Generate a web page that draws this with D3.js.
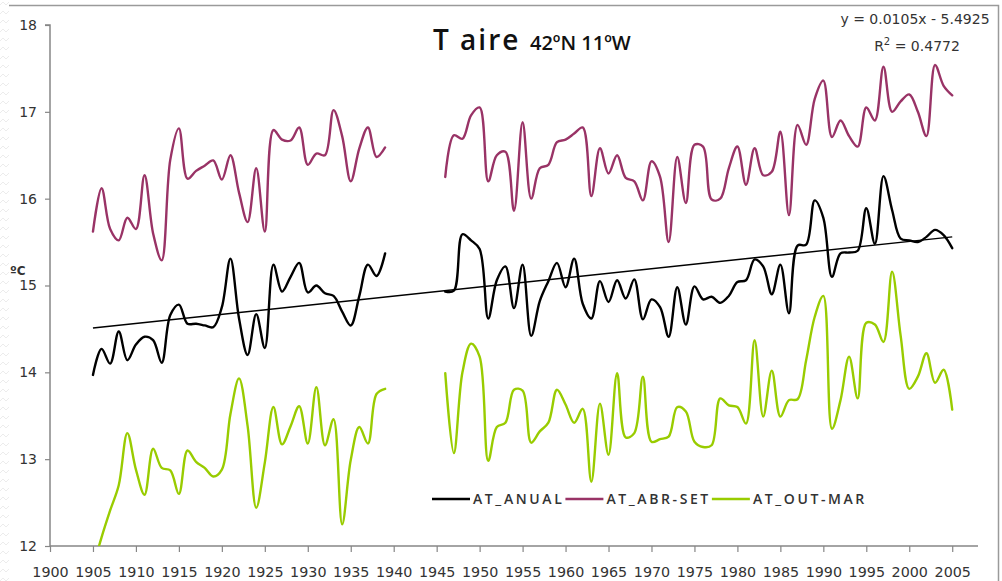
<!DOCTYPE html>
<html>
<head>
<meta charset="utf-8">
<script src="https://cdn.jsdelivr.net/npm/d3@7"></script>
<style>
  html, body { margin: 0; padding: 0; background: #fff; }
  svg { display: block; }
</style>
</head>
<body>
<svg id="chart" width="1002" height="581"></svg>
<script>
// Annual series, 1905–2005 (no record for 1940–1945)
const years = d3.range(1905, 2006);

const atAnual = [
  13.97, 14.27, 14.10, 14.47, 14.14, 14.32, 14.41, 14.37, 14.11, 14.66,
  14.78, 14.56, 14.56, 14.54, 14.52, 14.75, 15.31, 14.62, 14.20, 14.67,
  14.28, 15.24, 14.93, 15.10, 15.26, 14.92, 15.00, 14.91, 14.88, 14.70,
  14.54, 14.88, 15.24, 15.11, 15.37, null, null, null, null, null,
  null, 14.93, 14.94, 15.59, 15.52, 15.42, 14.62, 15.06, 15.22, 14.74,
  15.24, 14.42, 14.82, 15.05, 15.26, 14.98, 15.31, 14.79, 14.62, 15.05,
  14.81, 15.06, 14.85, 15.07, 14.61, 14.84, 14.75, 14.41, 14.98, 14.55,
  14.99, 14.84, 14.87, 14.80, 14.88, 15.04, 15.06, 15.30, 15.22, 14.90,
  15.24, 14.68, 15.46, 15.47, 15.98, 15.78, 15.10, 15.37, 15.38, 15.40,
  15.89, 15.48, 16.26, 15.87, 15.54, 15.52, 15.50, 15.56, 15.64, 15.58,
  15.43
];

const atAbrSet = [
  15.62, 16.12, 15.65, 15.52, 15.78, 15.65, 16.27, 15.60, 15.29, 16.45,
  16.81, 16.23, 16.32, 16.38, 16.44, 16.22, 16.50, 16.07, 15.73, 16.35,
  15.62, 16.79, 16.68, 16.67, 16.82, 16.39, 16.52, 16.50, 17.02, 16.72,
  16.20, 16.58, 16.82, 16.48, 16.59, null, null, null, null, null,
  null, 16.25, 16.73, 16.69, 16.96, 17.05, 16.20, 16.50, 16.54, 15.86,
  16.88, 16.00, 16.35, 16.39, 16.65, 16.68, 16.75, 16.82, 16.03, 16.58,
  16.29, 16.50, 16.24, 16.20, 15.98, 16.43, 16.25, 15.50, 16.48, 15.95,
  16.62, 16.60, 15.99, 16.00, 16.35, 16.60, 16.16, 16.58, 16.27, 16.31,
  16.77, 15.81, 16.85, 16.62, 17.15, 17.36, 16.71, 16.90, 16.72, 16.60,
  17.05, 16.90, 17.52, 17.00, 17.12, 17.20, 17.00, 16.72, 17.54, 17.30,
  17.19
];

const atOutMar = [
  11.75, 12.10, 12.41, 12.70, 13.30, 12.88, 12.59, 13.12, 12.90, 12.87,
  12.60, 13.10, 12.97, 12.90, 12.80, 12.88, 13.52, 13.93, 13.38, 12.44,
  12.96, 13.60, 13.17, 13.38, 13.61, 13.18, 13.83, 13.16, 13.46, 12.25,
  12.99, 13.37, 13.18, 13.75, 13.81, null, null, null, null, null,
  null, 13.99, 13.07, 14.00, 14.33, 14.18, 12.98, 13.37, 13.42, 13.80,
  13.79, 13.19, 13.32, 13.42, 13.80, 13.63, 13.42, 13.58, 12.74, 13.64,
  13.05, 13.99, 13.25, 13.30, 13.95, 13.20, 13.23, 13.26, 13.60, 13.55,
  13.20, 13.14, 13.16, 13.70, 13.62, 13.60, 13.41, 14.37, 13.49, 14.02,
  13.49, 13.68, 13.69, 14.14, 14.64, 14.88, 13.35, 13.68, 14.18, 13.70,
  14.57, 14.55, 14.35, 15.16, 14.42, 13.81, 13.95, 14.22, 13.88, 14.03,
  13.57
];

const seriesNames = ["AT_ANUAL", "AT_ABR-SET", "AT_OUT-MAR"];
const seriesColors = ["#000000", "#993366", "#99cc00"];
const seriesValues = [atAnual, atAbrSet, atOutMar];

// Linear fit of AT_ANUAL
const trendSlope = 0.0105;
const trendIntercept = -5.4925;
const trendSpan = [1905, 2005];
const trendLabel = "y = 0.0105x - 5.4925";
const r2Label = "0.4772";

const xTicks = d3.range(1900, 2006, 5);
const yTicks = [12, 13, 14, 15, 16, 17, 18];

const svg = d3.select("#chart");
const W = 1002, H = 581;
const plot = { left: 50, right: 978, top: 25, bottom: 546 };

const x = d3.scaleLinear().domain([1900, 2008]).range([plot.left, plot.right]);
const y = d3.scaleLinear().domain([12, 18]).range([plot.bottom, plot.top]);

// frame and textured left margin
const defs = svg.append("defs");
const pat = defs.append("pattern")
  .attr("id", "edge").attr("width", 10).attr("height", 9)
  .attr("patternUnits", "userSpaceOnUse");
pat.append("path")
  .attr("d", "M0,5 L3,2 L6,5 L9,2")
  .attr("fill", "none").attr("stroke", "#ececec").attr("stroke-width", 1);
svg.append("rect").attr("x", 0).attr("y", 0).attr("width", 9).attr("height", H)
  .attr("fill", "url(#edge)");
svg.append("path")
  .attr("d", `M9,5.5 H998.5 V${H}`)
  .attr("fill", "none").attr("stroke", "#9a9a9a").attr("stroke-width", 1.5);

defs.append("clipPath").attr("id", "plotClip")
  .append("rect")
  .attr("x", plot.left).attr("y", plot.top)
  .attr("width", plot.right - plot.left).attr("height", plot.bottom - plot.top);

// axes
const axisColor = "#868686";
const labelFont = "'DejaVu Sans', Verdana, sans-serif";

const yAxis = svg.append("g")
  .attr("transform", `translate(${plot.left},0)`)
  .call(d3.axisLeft(y).tickValues(yTicks).tickSize(5).tickPadding(8).tickFormat(d3.format("d")));
const xAxis = svg.append("g")
  .attr("transform", `translate(0,${plot.bottom})`)
  .call(d3.axisBottom(x).tickValues(xTicks).tickSize(6).tickFormat(d3.format("d")));

[yAxis, xAxis].forEach(g => {
  g.select(".domain").attr("stroke", axisColor).attr("stroke-width", 1.5);
  g.selectAll(".tick line").attr("stroke", axisColor).attr("stroke-width", 1.2);
  g.selectAll("text").attr("fill", "#333").attr("font-family", labelFont).attr("font-size", 14);
});
// the vertical axis spans exactly the plot height
yAxis.select(".domain").attr("d", `M-5,${plot.top}H0V${plot.bottom}`);
xAxis.select(".domain").attr("d", `M${plot.left},0H${plot.right}`);
xAxis.selectAll("text").attr("y", 31).attr("dy", null).attr("font-size", 14.3);

svg.append("text")
  .attr("x", 10).attr("y", 275)
  .attr("font-family", labelFont).attr("font-size", 12).attr("font-weight", "bold")
  .attr("fill", "#333").text("ºC");

// series
const lineGen = d3.line()
  .defined(d => d.v != null)
  .x(d => x(d.year))
  .y(d => y(d.v))
  .curve(d3.curveCatmullRom.alpha(0.5));

const lines = svg.append("g").attr("clip-path", "url(#plotClip)");
seriesValues.forEach((vals, i) => {
  const pts = years.map((yr, k) => ({ year: yr, v: vals[k] }));
  lines.append("path")
    .datum(pts)
    .attr("d", lineGen)
    .attr("fill", "none")
    .attr("stroke", seriesColors[i])
    .attr("stroke-width", 2.4)
    .attr("stroke-linejoin", "round")
    .attr("stroke-linecap", "round");
});

// trend line for AT_ANUAL
const trendPts = trendSpan.map(yr => ({ year: yr, v: trendSlope * yr + trendIntercept }));
lines.append("path")
  .datum(trendPts)
  .attr("d", d3.line().x(d => x(d.year)).y(d => y(d.v)))
  .attr("fill", "none").attr("stroke", "#000").attr("stroke-width", 1.5);

// title
const titleFont = "'Open Sans', 'Noto Sans', sans-serif";
svg.append("text")
  .attr("x", 433).attr("y", 50)
  .attr("font-family", titleFont).attr("font-size", 28).attr("font-weight", 600)
  .attr("letter-spacing", 2).attr("fill", "#111").text("T aire");
svg.append("text")
  .attr("x", 530).attr("y", 50)
  .attr("font-family", titleFont).attr("font-size", 20).attr("font-weight", 600)
  .attr("fill", "#111").text("42ºN 11ºW");

// regression equation
const eq = svg.append("g").attr("font-family", labelFont).attr("font-size", 14)
  .attr("fill", "#333").attr("text-anchor", "middle");
eq.append("text").attr("x", 915).attr("y", 24).text(trendLabel);
const r2 = eq.append("text").attr("x", 917).attr("y", 51);
r2.append("tspan").text("R");
r2.append("tspan").attr("font-size", 10).attr("dy", -6).text("2");
r2.append("tspan").attr("dy", 6).text(" = " + r2Label);

// legend
const legend = svg.append("g").attr("transform", "translate(432,499)");
let lx = 0;
seriesNames.forEach((name, i) => {
  legend.append("line")
    .attr("x1", lx).attr("x2", lx + 38).attr("y1", 0).attr("y2", 0)
    .attr("stroke", seriesColors[i]).attr("stroke-width", 2.6);
  const t = legend.append("text")
    .attr("x", lx + 41).attr("y", 5)
    .attr("font-family", titleFont).attr("font-size", 14).attr("font-weight", 600)
    .attr("letter-spacing", 2.6).attr("fill", "#333").text(name);
  lx += 41 + t.node().getComputedTextLength() + 1;
});
</script>
</body>
</html>
